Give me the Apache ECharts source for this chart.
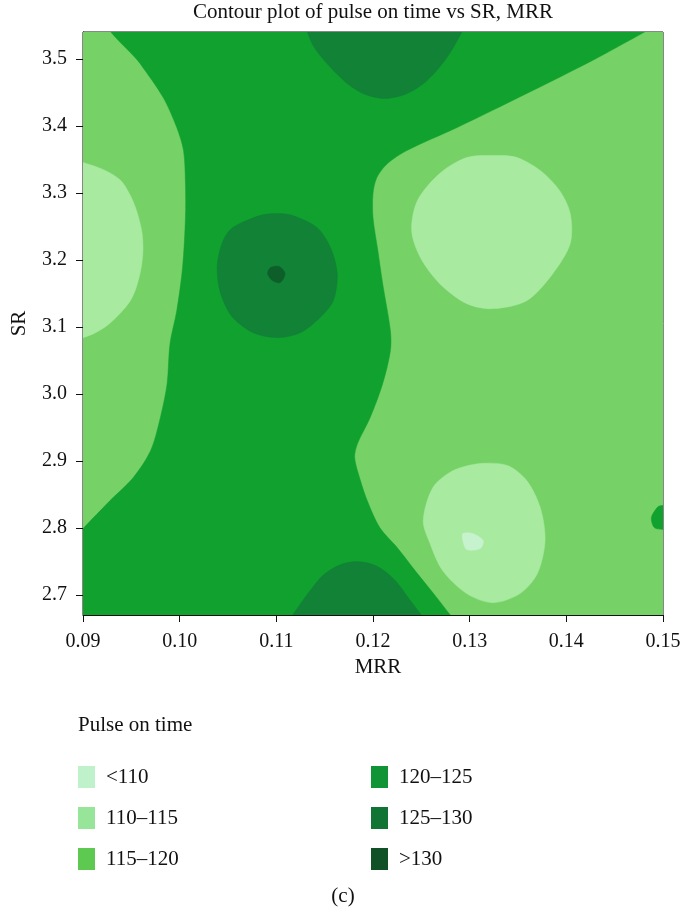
<!DOCTYPE html>
<html>
<head>
<meta charset="utf-8">
<title>Contour plot of pulse on time vs SR, MRR</title>
<script src="https://cdn.jsdelivr.net/npm/echarts@6/dist/echarts.min.js"></script>
<style>
  html, body { margin: 0; padding: 0; background: #fff; }
  #main { width: 682px; height: 911px; }
</style>
</head>
<body>
<div id="main"></div>
<script>
// levels of "Pulse on time", lightest to darkest
var levels = ['<110', '110–115', '115–120', '120–125', '125–130', '>130'];
var fillColors = ['#c6f2cd', '#a8eaa0', '#76d167', '#10a12f', '#118236', '#0e5e2a'];
var legendColors = ['#bff1cb', '#97e598', '#5ec950', '#109436', '#0f7434', '#115127'];

// axis ticks
var mrrTicks = [0.09, 0.10, 0.11, 0.12, 0.13, 0.14, 0.15];
var srTicks = [2.7, 2.8, 2.9, 3.0, 3.1, 3.2, 3.3, 3.4, 3.5];

// contour regions as [MRR, SR] outlines
// (outlines that meet the frame run a little past it, the grid clips them)
var area115_120 = [[0.09, 2.67], [0.15, 2.67], [0.15, 3.54], [0.09, 3.54]];

var band120_125 = [
  [0.0928, 3.554], [0.0959, 3.493], [0.0983, 3.4422], [0.0997, 3.3975], [0.1004, 3.3631],
  [0.1006, 3.3139], [0.1006, 3.2631], [0.1003, 3.1885], [0.0997, 3.1242], [0.0990, 3.0749],
  [0.0987, 3.0152], [0.0980, 2.9645], [0.0970, 2.9154], [0.0952, 2.8751], [0.0928, 2.8407],
  [0.0900, 2.799], [0.0885, 2.777], [0.085, 2.65], [0.1291, 2.65], [0.1280, 2.67],
  [0.1266, 2.6959], [0.1246, 2.7318],
  [0.1225, 2.7706], [0.1207, 2.8004], [0.1194, 2.8407], [0.1187, 2.8706], [0.1181, 2.9049],
  [0.1184, 2.9258], [0.1197, 2.9645], [0.1210, 3.0152], [0.1218, 3.0645], [0.1218, 3.0943],
  [0.1210, 3.1645], [0.1205, 3.2139], [0.1200, 3.2631], [0.1200, 3.2990], [0.1204, 3.3228],
  [0.1215, 3.3437], [0.1235, 3.3631], [0.1287, 3.3975], [0.1359, 3.4482], [0.1427, 3.4975],
  [0.1481, 3.54], [0.1500, 3.555]
];
var edge120_125 = [[0.1515, 2.836], [0.15, 2.8333], [0.1495, 2.8318], [0.1488, 2.8154], [0.1491, 2.8004], [0.15, 2.7975], [0.1515, 2.795]];

var top125_130 = [
  [0.1128, 3.555], [0.1132, 3.54], [0.1138, 3.5199], [0.1147, 3.5019], [0.1161, 3.4796], [0.1176, 3.4601],
  [0.1192, 3.4467], [0.1212, 3.4407], [0.1233, 3.4467], [0.1251, 3.4616], [0.1266, 3.4825],
  [0.1280, 3.5094], [0.1292, 3.54], [0.1298, 3.555]
];
var mid125_130 = [
  [0.1101, 3.2691], [0.1117, 3.2661], [0.1142, 3.2482], [0.1156, 3.2184], [0.1163, 3.1794],
  [0.1159, 3.1391], [0.1145, 3.1137], [0.1125, 3.0913], [0.1101, 3.0839], [0.1076, 3.0913],
  [0.1055, 3.1137], [0.1045, 3.1391], [0.1040, 3.1645], [0.1039, 3.1945], [0.1045, 3.2288],
  [0.1055, 3.2482], [0.1083, 3.2661]
];
var low125_130 = [
  [0.1110, 2.655], [0.1117, 2.67], [0.1125, 2.6869], [0.1135, 2.7064], [0.1148, 2.7288], [0.1164, 2.7437],
  [0.1181, 2.7497], [0.1197, 2.7467], [0.1210, 2.7378], [0.1223, 2.7213], [0.1235, 2.6989],
  [0.1250, 2.67], [0.1258, 2.655]
];
var peak130 = [[0.1094, 3.1885], [0.1103, 3.19], [0.1109, 3.1794], [0.1104, 3.166], [0.1096, 3.169], [0.1091, 3.1794]];

var left110_115 = [
  [0.088, 3.352], [0.09, 3.3452], [0.0923, 3.3333], [0.0939, 3.3184], [0.0949, 3.296], [0.0956, 3.2706],
  [0.0961, 3.2407], [0.0962, 3.2139], [0.0960, 3.187], [0.0955, 3.1585], [0.0949, 3.1391],
  [0.0939, 3.1212], [0.0926, 3.1033], [0.0913, 3.0913], [0.09, 3.0839], [0.088, 3.078]
];
var upper110_115 = [
  [0.1328, 3.3557], [0.1349, 3.3527], [0.1373, 3.3333], [0.1393, 3.3034], [0.1404, 3.2691],
  [0.1404, 3.2243], [0.1386, 3.1794], [0.1359, 3.1391], [0.1324, 3.1272], [0.1297, 3.1346],
  [0.1269, 3.1645], [0.1249, 3.2034], [0.1240, 3.2437], [0.1246, 3.2885], [0.1269, 3.3288],
  [0.1297, 3.3527]
];
var lower110_115 = [
  [0.1311, 2.896], [0.1339, 2.893], [0.1359, 2.8706], [0.1373, 2.8303], [0.1378, 2.781],
  [0.1370, 2.7318], [0.1352, 2.7019], [0.1324, 2.6884], [0.1297, 2.7019], [0.1272, 2.7363],
  [0.1259, 2.7766], [0.1252, 2.8109], [0.1262, 2.8601], [0.1283, 2.8855]
];
var dip110 = [[0.1293, 2.7915], [0.1303, 2.7915], [0.1314, 2.781], [0.1311, 2.7691], [0.1297, 2.7676], [0.1293, 2.781]];

var shapesByLevel = [
  [dip110],
  [left110_115, upper110_115, lower110_115],
  [area115_120],
  [band120_125, edge120_125],
  [top125_130, mid125_130, low125_130],
  [peak130]
];
// painting order, bottom to top
var drawOrder = [2, 3, 4, 5, 1, 0];

var serif = '"Liberation Serif", "DejaVu Serif", serif';

var myChart = echarts.init(document.getElementById('main'));

var series = drawOrder.map(function (lv) {
  return {
    name: levels[lv],
    type: 'custom',
    coordinateSystem: 'cartesian2d',
    clip: true,
    silent: true,
    itemStyle: { color: legendColors[lv] },
    data: shapesByLevel[lv].map(function (s, i) { return [i]; }),
    renderItem: function (params, api) {
      var pts = shapesByLevel[lv][params.dataIndex].map(function (p) {
        return api.coord(p);
      });
      return {
        type: 'polygon',
        shape: { points: pts, smooth: lv === 2 ? 0 : 0.3 },
        style: { fill: fillColors[lv], stroke: fillColors[lv], lineWidth: 0.5 }
      };
    }
  };
});

var legendText = { fontFamily: serif, fontSize: 21, color: '#111', padding: [0, 0, 0, 6] };

var option = {
  animation: false,
  backgroundColor: '#fff',
  title: [
    {
      text: 'Contour plot of pulse on time vs SR, MRR',
      left: 373, top: 2, textAlign: 'center', padding: 0,
      textStyle: { fontFamily: serif, fontSize: 21, fontWeight: 'normal', color: '#111' }
    },
    {
      text: 'Pulse on time',
      left: 78, top: 715, padding: 0,
      textStyle: { fontFamily: serif, fontSize: 21, fontWeight: 'normal', color: '#111' }
    },
    {
      text: '(c)',
      left: 343, top: 886, textAlign: 'center', padding: 0,
      textStyle: { fontFamily: serif, fontSize: 21, fontWeight: 'normal', color: '#111' }
    }
  ],
  legend: [
    {
      data: levels.slice(0, 3),
      orient: 'vertical', left: 78, top: 766, padding: 0,
      itemWidth: 17, itemHeight: 22, itemGap: 19, icon: 'rect',
      selectedMode: false, textStyle: legendText
    },
    {
      data: levels.slice(3),
      orient: 'vertical', left: 371, top: 766, padding: 0,
      itemWidth: 17, itemHeight: 22, itemGap: 19, icon: 'rect',
      selectedMode: false, textStyle: legendText
    }
  ],
  grid: {
    left: 83, right: 19, top: 32, bottom: 296,
    show: true, borderColor: '#111', borderWidth: 1, backgroundColor: 'transparent',
    outerBoundsMode: 'none'
  },
  xAxis: {
    type: 'value', min: 0.09, max: 0.15,
    name: 'MRR', nameLocation: 'middle', nameGap: 37,
    nameTextStyle: { fontFamily: serif, fontSize: 21, color: '#111', padding: [0, 0, 0, 10] },
    axisLine: { lineStyle: { color: '#111', width: 1 } },
    axisTick: { length: 7, customValues: mrrTicks, lineStyle: { color: '#111' } },
    axisLabel: {
      customValues: mrrTicks, margin: 17,
      fontFamily: serif, fontSize: 20, color: '#111',
      formatter: function (v) { return v.toFixed(2); }
    },
    splitLine: { show: false }
  },
  yAxis: {
    type: 'value', min: 2.67, max: 3.54,
    name: 'SR', nameLocation: 'middle', nameGap: 53,
    nameTextStyle: { fontFamily: serif, fontSize: 21, color: '#111' },
    axisLine: { show: true, lineStyle: { color: '#111', width: 1 } },
    axisTick: { show: true, length: 7, customValues: srTicks, lineStyle: { color: '#111' } },
    axisLabel: {
      customValues: srTicks, margin: 16,
      fontFamily: serif, fontSize: 20, color: '#111',
      formatter: function (v) { return v.toFixed(1); }
    },
    splitLine: { show: false }
  },
  series: series
};

myChart.setOption(option);
</script>
</body>
</html>
